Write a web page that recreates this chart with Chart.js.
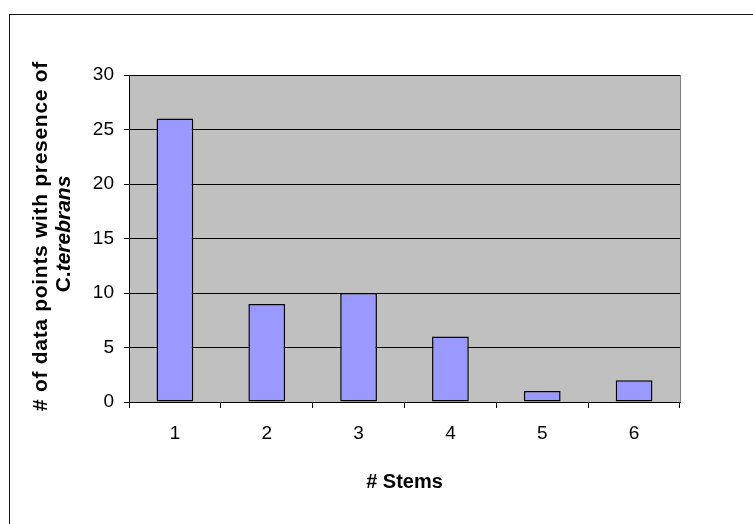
<!DOCTYPE html>
<html>
<head>
<meta charset="utf-8">
<script src="https://cdn.jsdelivr.net/npm/chart.js@4.4.1/dist/chart.umd.min.js"></script>
<style>
  html, body { margin: 0; padding: 0; background: #fff; }
  #wrap { width: 753px; height: 524px; }
</style>
</head>
<body>
<div id="wrap"><canvas id="grafico" width="753" height="524"></canvas></div>
<script>
// dados do gráfico
const categorias = ["1", "2", "3", "4", "5", "6"];
const valores = [26, 9, 10, 6, 1, 2];
const yMin = 0, yMax = 30, yPasso = 5;
const tituloX = "# Stems";
const tituloY1 = "# of data points with presence of";
const tituloY2a = "C.";
const tituloY2b = "terebrans";

const FONTE = '"Liberation Sans", Arial, sans-serif';

// fundo, moldura e área cinza
const fundoPlugin = {
  id: "fundo",
  beforeDraw(chart) {
    const { ctx, chartArea: a } = chart;
    ctx.save();
    ctx.fillStyle = "#fff";
    ctx.fillRect(0, 0, chart.width, chart.height);
    ctx.strokeStyle = "#111";
    ctx.lineWidth = 1;
    ctx.strokeRect(9.5, 14.5, chart.width, chart.height);
    ctx.fillStyle = "#c0c0c0";
    ctx.fillRect(a.left, a.top, a.right - a.left, a.bottom - a.top);
    ctx.restore();
  },
  afterDraw(chart) {
    const { ctx, chartArea: a } = chart;
    ctx.save();
    // borda direita cinza
    ctx.strokeStyle = "#808080";
    ctx.beginPath();
    ctx.moveTo(a.right + 0.5, a.top);
    ctx.lineTo(a.right + 0.5, a.bottom);
    ctx.stroke();

    ctx.fillStyle = "#000";
    // título X
    ctx.font = "bold 20px " + FONTE;
    ctx.textAlign = "center";
    ctx.textBaseline = "middle";
    ctx.fillText(tituloX, (a.left + a.right) / 2, 482);

    // título Y (duas linhas, girado)
    ctx.save();
    ctx.translate(47, 236);
    ctx.rotate(-Math.PI / 2);
    ctx.textBaseline = "alphabetic";
    ctx.textAlign = "center";
    ctx.font = "bold 21px " + FONTE;
    ctx.letterSpacing = "0.7px";
    ctx.fillText(tituloY1, 0, 0);
    ctx.letterSpacing = "0px";
    ctx.restore();

    ctx.save();
    ctx.translate(70, 234);
    ctx.rotate(-Math.PI / 2);
    ctx.textBaseline = "alphabetic";
    ctx.textAlign = "left";
    ctx.font = "bold 21px " + FONTE;
    const w1 = ctx.measureText(tituloY2a).width;
    ctx.font = "italic bold 21px " + FONTE;
    const w2 = ctx.measureText(tituloY2b).width;
    const x0 = -(w1 + w2) / 2;
    ctx.font = "bold 21px " + FONTE;
    ctx.fillText(tituloY2a, x0, 0);
    ctx.font = "italic bold 21px " + FONTE;
    ctx.fillText(tituloY2b, x0 + w1, 0);
    ctx.restore();

    ctx.restore();
  }
};

const ctx = document.getElementById("grafico").getContext("2d");
new Chart(ctx, {
  type: "bar",
  data: {
    labels: categorias,
    datasets: [{
      data: valores,
      backgroundColor: "#9999ff",
      borderColor: "#000",
      borderWidth: 1.5,
      borderSkipped: false,
      categoryPercentage: 1,
      barPercentage: 0.4
    }]
  },
  options: {
    responsive: false,
    animation: false,
    layout: { padding: { left: 0, top: 75, right: 73, bottom: 0 } },
    plugins: {
      legend: { display: false },
      tooltip: { enabled: false }
    },
    scales: {
      x: {
        grid: { drawOnChartArea: false, drawTicks: true, tickLength: 6, color: "#000", offset: true },
        border: { color: "#000", width: 1 },
        ticks: { color: "#000", font: { family: FONTE, size: 19 }, padding: 14 },
        afterFit(scale) { scale.height = 122; }
      },
      y: {
        min: yMin,
        max: yMax,
        ticks: { stepSize: yPasso, color: "#000", font: { family: FONTE, size: 19 }, padding: 10 },
        grid: { color: "#000", lineWidth: 1, tickLength: 5 },
        border: { color: "#000", width: 1 },
        afterFit(scale) { scale.width = 129; }
      }
    }
  },
  plugins: [fundoPlugin]
});
</script>
</body>
</html>
